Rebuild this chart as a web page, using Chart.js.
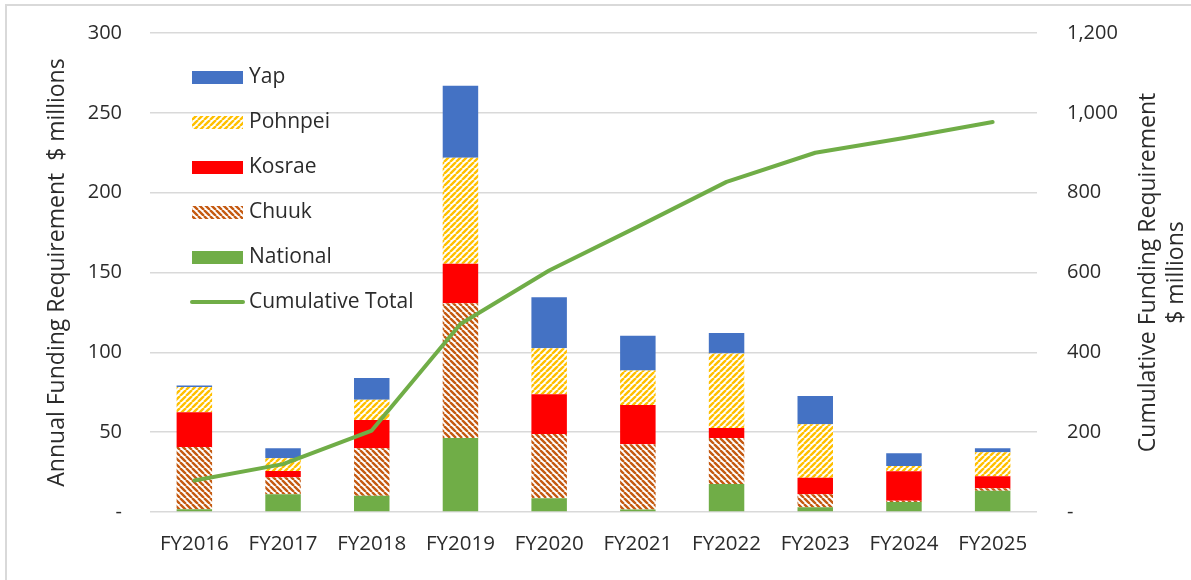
<!DOCTYPE html>
<html>
<head>
<meta charset="utf-8">
<title>FSM Funding Requirement</title>
<script src="https://cdn.jsdelivr.net/npm/chart.js@4/dist/chart.umd.min.js"></script>
<style>
  html, body { margin: 0; padding: 0; background: #fff; }
  #wrap { width: 1191px; height: 580px; position: relative; }
</style>
</head>
<body>
<div id="wrap"><canvas id="chart" width="1191" height="580"></canvas></div>
<script>
const categories = ['FY2016', 'FY2017', 'FY2018', 'FY2019', 'FY2020', 'FY2021', 'FY2022', 'FY2023', 'FY2024', 'FY2025'];
const national = [1.7, 11.1, 10.2, 46.3, 8.6, 1.5, 17.5, 2.9, 6.3, 13.3];
const chuuk = [39.0, 10.6, 29.7, 84.4, 40.2, 40.9, 28.8, 8.2, 0.8, 1.5];
const kosrae = [21.7, 4.0, 17.7, 24.8, 24.9, 24.6, 6.3, 10.4, 18.4, 7.6];
const pohnpei = [15.9, 7.9, 12.7, 66.4, 28.8, 21.7, 46.6, 33.4, 3.3, 15.0];
const yap = [1.0, 6.3, 13.6, 45.1, 32.0, 21.7, 12.9, 17.7, 8.0, 2.5];
const cumulative = [79, 120, 204, 471, 605, 715, 827, 900, 937, 977];

const FONT = '"Open Sans", sans-serif';
const TEXT = '#2b2b2b';
const GREEN = '#70AD47';

// diagonal hatch fills, white background with coloured stripes
const makeStripes = (color, upward) => {
    const size = 6;
    const tile = document.createElement('canvas');
    tile.width = size;
    tile.height = size;
    const g = tile.getContext('2d');
    g.fillStyle = '#ffffff';
    g.fillRect(0, 0, size, size);
    g.strokeStyle = color;
    g.lineWidth = 2.4;
    g.beginPath();
    for (let x0 = -size; x0 <= size; x0 += size) {
        if (upward) {
            g.moveTo(x0, size);
            g.lineTo(x0 + size, 0);
        } else {
            g.moveTo(x0, 0);
            g.lineTo(x0 + size, size);
        }
    }
    g.stroke();
    return g.createPattern(tile, 'repeat');
};

const ctx = document.getElementById('chart');
const pohnpeiFill = makeStripes('#FFC000', true);
const chuukFill = makeStripes('#C55A11', false);

const legendItems = [
    { label: 'Yap', fill: '#4472C4' },
    { label: 'Pohnpei', fill: pohnpeiFill },
    { label: 'Kosrae', fill: '#FF0000' },
    { label: 'Chuuk', fill: chuukFill },
    { label: 'National', fill: GREEN },
    { label: 'Cumulative Total', line: GREEN }
];

const framePlugin = {
    id: 'frame',
    beforeDraw(chart) {
        const c = chart.ctx;
        c.save();
        c.fillStyle = '#ffffff';
        c.fillRect(0, 0, chart.width, chart.height);
        c.strokeStyle = '#d9d9d9';
        c.lineWidth = 2;
        c.strokeRect(6, 5, chart.width + 10, chart.height + 10);
        c.restore();
    },
    afterDraw(chart) {
        const c = chart.ctx;
        c.save();
        c.font = `21px ${FONT}`;
        c.fillStyle = TEXT;
        c.textBaseline = 'middle';

        // legend, stacked top to bottom inside the plot
        legendItems.forEach((item, i) => {
            const y = 77 + i * 45;
            if (item.line) {
                c.strokeStyle = item.line;
                c.lineWidth = 4;
                c.lineCap = 'round';
                c.beginPath();
                c.moveTo(192, y);
                c.lineTo(243, y);
                c.stroke();
            } else {
                c.fillStyle = item.fill;
                c.fillRect(192, y - 6, 51, 13);
            }
            c.fillStyle = TEXT;
            c.textAlign = 'left';
            c.fillText(item.label, 249, y);
        });

        // axis titles
        const midY = (chart.chartArea.top + chart.chartArea.bottom) / 2;
        c.font = `23px ${FONT}`;
        c.textAlign = 'center';
        c.save();
        c.translate(57, midY);
        c.rotate(-Math.PI / 2);
        c.fillText('Annual Funding Requirement  $ millions', 0, 0);
        c.restore();

        c.save();
        c.translate(1148, midY);
        c.rotate(-Math.PI / 2);
        c.fillText('Cumulative Funding Requirement', 0, 0);
        c.fillText('$ millions', 0, 28);
        c.restore();
        c.restore();
    }
};

const barSet = (label, data, fill) => ({
    type: 'bar',
    label,
    data,
    backgroundColor: fill,
    borderWidth: 0,
    stack: 'states',
    yAxisID: 'y',
    order: 1,
    categoryPercentage: 0.5,
    barPercentage: 0.8
});

// fixed axis widths; tick padding should not push the plot down
const fitSide = (width) => (scale) => {
    scale.width = width;
    scale.paddingTop = 0;
    scale.paddingBottom = 0;
};

new Chart(ctx, {
    data: {
        labels: categories,
        datasets: [
            {
                type: 'line',
                label: 'Cumulative Total',
                data: cumulative,
                yAxisID: 'y1',
                borderColor: GREEN,
                borderWidth: 4,
                borderCapStyle: 'round',
                borderJoinStyle: 'round',
                pointRadius: 0,
                tension: 0,
                order: 0
            },
            barSet('National', national, GREEN),
            barSet('Chuuk', chuuk, chuukFill),
            barSet('Kosrae', kosrae, '#FF0000'),
            barSet('Pohnpei', pohnpei, pohnpeiFill),
            barSet('Yap', yap, '#4472C4')
        ]
    },
    options: {
        responsive: false,
        animation: false,
        devicePixelRatio: 1,
        layout: { padding: { top: 33, left: 0, right: 0, bottom: 0 } },
        plugins: {
            legend: { display: false },
            tooltip: { enabled: false }
        },
        scales: {
            x: {
                stacked: true,
                grid: { display: false },
                border: { display: false },
                ticks: { font: { family: FONT, size: 20.5 }, color: TEXT, padding: 12, maxRotation: 0 },
                afterFit(scale) { scale.height = 68; }
            },
            y: {
                stacked: true,
                position: 'left',
                min: 0,
                max: 300,
                grid: { color: '#d9d9d9', lineWidth: 1.5, drawTicks: false },
                border: { display: false },
                ticks: {
                    stepSize: 50,
                    padding: 28,
                    font: { family: FONT, size: 20 },
                    color: TEXT,
                    callback: (v) => v === 0 ? '-' : v
                },
                afterFit: fitSide(150)
            },
            y1: {
                position: 'right',
                min: 0,
                max: 1200,
                grid: { drawOnChartArea: false, drawTicks: false },
                border: { display: false },
                ticks: {
                    stepSize: 200,
                    padding: 30,
                    font: { family: FONT, size: 20 },
                    color: TEXT,
                    callback: (v) => v === 0 ? '-' : v.toLocaleString('en-US')
                },
                afterFit: fitSide(154)
            }
        }
    },
    plugins: [framePlugin]
});
</script>
</body>
</html>
